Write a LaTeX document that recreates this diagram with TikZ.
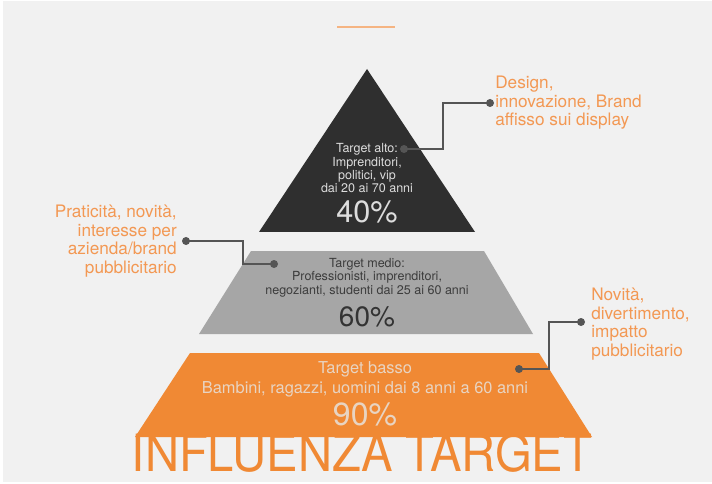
\documentclass[tikz,border=0pt]{standalone}
\usepackage{fontspec}
\setmainfont{TeX Gyre Heros}
\definecolor{sfondo}{RGB}{241,241,241}
\definecolor{arancio}{RGB}{240,137,52}
\definecolor{aranciotxt}{RGB}{243,152,83}
\definecolor{scuro}{RGB}{47,47,47}
\definecolor{grigio}{RGB}{166,166,166}
\definecolor{linea}{RGB}{85,85,85}
\begin{document}
\begin{tikzpicture}[x=0.75pt,y=0.75pt,yscale=-1,xscale=1,
  callout/.style={text=aranciotxt,font=\fontsize{12.9}{13.9}\selectfont,inner sep=0pt},
  leader/.style={draw=linea,line width=1.5pt},
  dot/.style={fill=linea},
  lvltxt/.style={font=\fontsize{9.4}{10}\selectfont,align=center,inner sep=0pt},
  perc/.style={inner sep=0pt}]
\useasboundingbox (0,0) rectangle (712,484);
%Shape: background
\fill [white] (0,0) rectangle (712,484);
\fill [sfondo] (3,1) rectangle (712,482);
%Straight Lines: top line
\draw [color={rgb, 255:red, 245; green, 180; blue, 130 }, line width=1.5pt] (337,27) -- (395,27);

%Shape: triangle (target alto)
\fill [scuro] (367,69) -- (475,232) -- (259,232) -- cycle;
%Shape: trapezoid (target medio)
\fill [grigio] (251,251) -- (484,251) -- (533,334) -- (199,334) -- cycle;
%Shape: trapezoid (target basso)
\fill [arancio] (190,353) -- (539,353) -- (592,437) -- (135,437) -- cycle;

% Text Node
\node [lvltxt, text={rgb,255:red,221;green,221;blue,221}] (alto) at (367,168.5) {Target alto:\\Imprenditori,\\politici, vip\\dai 20 ai 70 anni};
\node [perc, text={rgb,255:red,221;green,221;blue,221}, font=\fontsize{23}{23}\selectfont] (p40) at (367,212) {40\%};
% Text Node
\node [lvltxt, text={rgb,255:red,60;green,60;blue,60}] (medio) at (367,277.5) {Target medio:\\Professionisti, imprenditori,\\negozianti, studenti dai 25 ai 60 anni};
\node [perc, text={rgb,255:red,51;green,51;blue,51}, font=\fontsize{21}{21}\selectfont] (p60) at (367,317) {60\%};
% Text Node
\node [perc, text={rgb,255:red,232;green,212;blue,194}, font=\fontsize{12.3}{14}\selectfont] (basso) at (365,369) {Target basso};
\node [perc, text={rgb,255:red,232;green,212;blue,194}, font=\fontsize{12.3}{14}\selectfont] (bambini) at (365,389) {Bambini, ragazzi, uomini dai 8 anni a 60 anni};
\node [perc, text={rgb,255:red,232;green,212;blue,194}, font=\fontsize{24}{24}\selectfont] (p90) at (365,414) {90\%};
% Text Node: title
\node [perc, text=arancio, font=\fontsize{38.5}{38.5}\selectfont] (titolo) at (362,453) {\scalebox{0.92}[1]{INFLUENZA TARGET}};

% Callouts
\coordinate (a1) at (404,149);
\coordinate (d1) at (490,103);
\coordinate (d2) at (186,241);
\coordinate (a2) at (274,264);
\coordinate (d3) at (581,322);
\coordinate (a3) at (519,369);
\draw [leader] (a1) -- ++(39,0) |- (d1);
\draw [leader] (d2) -- ++(57,0) |- (a2);
\draw [leader] (d3) -- ++(-32,0) |- (a3);
\foreach \p in {a1,d1,d2,a2,d3,a3} \fill [dot] (\p) circle (4);
% Text Node
\node [callout, anchor=west, align=left] (design) at (495,103) {Design,\\innovazione, Brand\\affisso sui display};
\node [callout, anchor=east, align=right] (pratic) at (177,241) {Praticità, novità,\\interesse per\\azienda/brand\\pubblicitario};
\node [callout, anchor=west, align=left] (novita) at (591,324) {Novità,\\divertimento,\\impatto\\pubblicitario};

\end{tikzpicture}
\end{document}
